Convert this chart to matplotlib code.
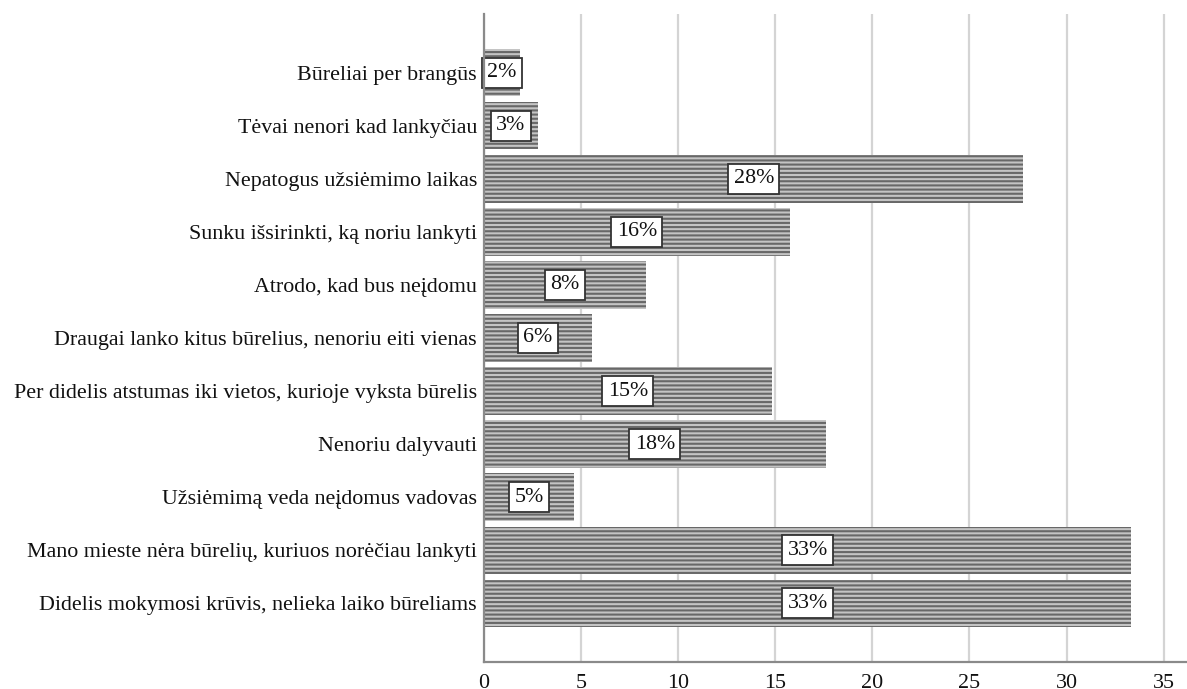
import matplotlib.pyplot as plt

# Data (values in %; labels are rounded)
categories = [
    "Būreliai per brangūs",
    "Tėvai nenori kad lankyčiau",
    "Nepatogus užsiėmimo laikas",
    "Sunku išsirinkti, ką noriu lankyti",
    "Atrodo, kad bus neįdomu",
    "Draugai lanko kitus būrelius, nenoriu eiti vienas",
    "Per didelis atstumas iki vietos, kurioje vyksta būrelis",
    "Nenoriu dalyvauti",
    "Užsiėmimą veda neįdomus vadovas",
    "Mano mieste nėra būrelių, kuriuos norėčiau lankyti",
    "Didelis mokymosi krūvis, nelieka laiko būreliams",
]
values = [1.85, 2.78, 27.78, 15.74, 8.33, 5.56, 14.81, 17.59, 4.63, 33.33, 33.33]
xticks = [0, 5, 10, 15, 20, 25, 30, 35]

plt.rcParams['font.family'] = ['Liberation Serif', 'DejaVu Serif']
plt.rcParams['hatch.linewidth'] = 1.5

FS = 15.8

fig = plt.figure(figsize=(11.87, 6.89), dpi=100)
ax = fig.add_axes([0.4077, 0.0392, 0.5923, 0.9405])

n = len(categories)
ypos = [n - 1 - i for i in range(n)]

# striped bars: light grey fill with dark grey horizontal hatching
ax.barh(ypos, values, height=0.89, color='#c4c4c4', edgecolor='#686868',
        linewidth=0, hatch='----', zorder=2)

for y, v in zip(ypos, values):
    ax.text(v / 2, y, f"{round(v):d}%", ha='center', va='center', fontsize=FS,
            color='#111111', zorder=3,
            bbox=dict(boxstyle='square,pad=0.24', facecolor='white',
                      edgecolor='#333333', linewidth=1.3))

ax.set_yticks(ypos)
ax.set_yticklabels(categories, fontsize=FS, color='#111111')
ax.set_xticks(xticks)
ax.set_xticklabels([str(t) for t in xticks], fontsize=FS, color='#111111')
ax.tick_params(axis='both', length=0)
ax.tick_params(axis='x', pad=9)
ax.tick_params(axis='y', pad=5)

ax.set_xlim(0, 36.2)
ax.set_ylim(-1.11, n - 1 + 1.11)

ax.grid(axis='x', color='#d4d4d4', linewidth=1.6, zorder=0)
ax.set_axisbelow(True)
for s in ['top', 'right']:
    ax.spines[s].set_visible(False)
for s in ['left', 'bottom']:
    ax.spines[s].set_color('#8a8a8a')
    ax.spines[s].set_linewidth(1.6)
    ax.spines[s].set_zorder(4)

fig.savefig('out.png', dpi=100)
